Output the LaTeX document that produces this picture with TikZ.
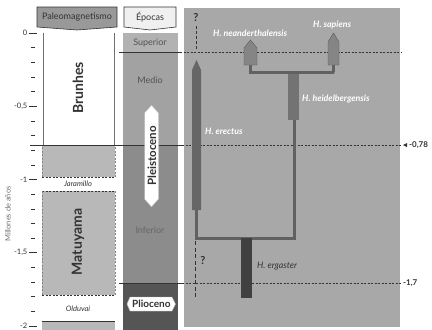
\documentclass[tikz,border=0pt]{standalone}
\usepackage{fontspec}
\setmainfont{Lato}
\definecolor{panel}{HTML}{A8A8A8}
\definecolor{matu}{HTML}{B8B8B8}
\definecolor{sup}{HTML}{B2B2B2}
\definecolor{med}{HTML}{A2A2A2}
\definecolor{inf}{HTML}{8C8C8C}
\definecolor{plio}{HTML}{555555}
\definecolor{ink}{HTML}{333333}
\tikzset{
  tick/.style={draw=ink, line width=0.6pt},
  ticklab/.style={anchor=east, font=\fontsize{7.5}{8}\selectfont, text=ink, inner sep=0pt},
  hdr/.style={draw=ink, line width=0.6pt},
  bandlab/.style={font=\fontsize{7.5}{8}\selectfont\itshape, text=ink},
  eplab/.style={font=\fontsize{9}{10}\selectfont, text=ink!85},
  biglab/.style={font=\fontsize{14}{15}\selectfont\bfseries, text=ink, rotate=90},
  splab/.style={font=\fontsize{8.8}{10}\selectfont\bfseries\itshape, inner sep=0pt},
  dline/.style={dashed, dash pattern=on 2pt off 1.5pt, draw=ink, line width=0.6pt},
  branch/.style={line width=3pt, draw=black!62},
}
\begin{document}
\begin{tikzpicture}[x=1pt,y=-1pt]
\useasboundingbox (0,0) rectangle (432,330);
\fill[white] (0,0) rectangle (432,330);
% right textured panel
\fill[panel] (184,8) rectangle (400,327);
% Paleomagnetism column
\fill[matu] (42,145) rectangle (115,177);
\fill[matu] (42,191) rectangle (115,295);
\fill[matu] (42,321) rectangle (115,330);
\draw[ink!70, line width=0.5pt] (43,33) -- (43,145);
\draw[ink!70, line width=0.5pt] (114,33) -- (114,145);
\draw[dline] (42,177) -- (115,177);
\draw[dline] (42,191) -- (115,191);
\draw[dline] (42,295) -- (115,295);
\draw[dline, draw=ink!60] (42,177) -- (42,145);
\draw[dline, draw=ink!60] (115,177) -- (115,145);
\draw[dline, draw=ink!60] (42,191) -- (42,295);
\draw[dline, draw=ink!60] (115,191) -- (115,295);
\draw[ink, line width=0.6pt] (42,321) -- (115,321);
% Epochs column
\fill[sup] (123,33) rectangle (178,52);
\fill[med] (123,52) rectangle (178,145);
\fill[inf] (123,145) rectangle (178,283);
\fill[plio] (123,283) rectangle (178,330);
% headers
\draw[hdr, fill=black!40] (37,7) -- (117,7) -- (117,27) -- (77,30) -- (37,27) -- cycle;
\node[font=\fontsize{9}{10}\selectfont, text=ink] (hpal) at (77,17.5) {Paleomagnetismo};
\draw[hdr, fill=black!6] (124,7) -- (176,7) -- (176,27) -- (150,30) -- (124,27) -- cycle;
\node[font=\fontsize{9}{10}\selectfont, text=ink] (hep) at (150,17.5) {Épocas};
% axis ticks
\foreach \i in {1,2,3,4,6,7,8,9,11,12,13,14,16,17,18,19}
  \draw[tick] (31,33+14.65*\i) -- (35,33+14.65*\i);
\foreach \i/\t in {0/0,5/{-0,5},10/{-1},15/{-1,5},20/{-2}} {
  \draw[tick] (29,33+14.65*\i) -- (37,33+14.65*\i);
  \node[ticklab] at (27.5,33+14.65*\i) {\t};
}
\node[rotate=90, font=\fontsize{7.5}{8}\selectfont, text=ink!70] (ylab) at (8,214) {Millones de años};
% main horizontal lines
\draw[ink, line width=0.8pt] (30,145) -- (182,145);
\draw[dline] (182,145) -- (401,145);
\draw[ink, line width=0.8pt] (119,52) -- (180,52);
\draw[dline] (180,52) -- (401,52);
\draw[ink, line width=0.8pt] (119,283) -- (182,283);
\draw[dline] (182,283) -- (401,283);
% labels on right
\fill[ink] (403,145) -- (407,143) -- (407,147) -- cycle;
\node[anchor=west, font=\fontsize{8}{9}\selectfont\bfseries, text=ink, inner sep=0pt] (l78) at (409,145) {-0,78};
\node[anchor=west, font=\fontsize{8}{9}\selectfont\bfseries, text=ink, inner sep=0pt] (l17) at (403,283) {-1,7};
% paleomag labels
\node[biglab] (brun) at (78,88) {Brunhes};
\node[biglab] (matu) at (78,242) {Matuyama};
\node[bandlab] (jar) at (78,184) {Jaramillo};
\node[bandlab] (old) at (78,308.5) {Olduvai};
% epoch labels
\node[eplab] (supl) at (150,43) {Superior};
\node[eplab] (medl) at (150,80) {Medio};
\node[eplab, text=black!60] (infl) at (150,230) {Inferior};
\draw[fill=white, draw=black!30, line width=0.4pt] (144.5,199) -- (144.5,113) -- (151.5,105) -- (158.5,113) -- (158.5,199) -- (151.5,207) -- cycle;
\node[rotate=90, font=\fontsize{11.5}{12}\selectfont\bfseries, text=ink] (pleis) at (152,156) {Pleistoceno};
\draw[fill=white, draw=black!30, line width=0.4pt] (127,304) -- (130,297) -- (172,297) -- (175.5,304) -- (172,311) -- (130,311) -- cycle;
\node[font=\fontsize{10}{11}\selectfont\bfseries, text=ink] (plioc) at (151.3,304) {Plioceno};
% question marks
\node[font=\fontsize{11}{12}\selectfont\bfseries, text=ink] (q1) at (196,18) {?};
\draw[dashed, dash pattern=on 3pt off 2pt, draw=ink, line width=0.5pt] (196,26) -- (196,50);
\node[font=\fontsize{11}{12}\selectfont\bfseries, text=ink] (q2) at (203,261) {?};
\draw[dashed, dash pattern=on 4pt off 2.5pt, draw=ink, line width=0.5pt] (195,241) -- (195,297);
% tree branches
\coordinate (eb) at (196.5,209);
\coordinate (c1) at (196.5,238);
\coordinate (c2) at (294,238);
\coordinate (hb) at (294,118);
\draw[branch, line cap=butt] (eb) -- (c1) -- (c2) -- (hb);
\coordinate (t1) at (249,72.5);
\coordinate (t2) at (334,72.5);
\draw[branch] (250.5,64) |- (t1) -- (t2) -| (333.5,64);
% species bars
\fill[black!60] (192,210) -- (192,70) -- (196.5,60) -- (201,70) -- (201,210) -- cycle;
\fill[black!55] (288,74) rectangle (299,120);
\fill[black!48, draw=black!65, line width=0.4pt] (244,65) -- (244,48) -- (250.5,40) -- (257,48) -- (257,65) -- cycle;
\fill[black!48, draw=black!65, line width=0.4pt] (328,65) -- (328,42) -- (333.5,33) -- (339,42) -- (339,65) -- cycle;
\fill[black!75] (241,238) rectangle (252,298);
% species labels
\node[splab, text=white, anchor=west] (ner) at (205,131) {H. erectus};
\node[splab, text=white, anchor=west] (nhe) at (302,99) {H. heidelbergensis};
\node[splab, text=white, anchor=west] (nne) at (213,33) {H. neanderthalensis};
\node[splab, text=white, anchor=west] (nsa) at (313,25) {H. sapiens};
\node[splab, text=ink, anchor=west, font=\fontsize{8.8}{10}\selectfont\itshape] (nerg) at (257,266) {H. ergaster};
\end{tikzpicture}
\end{document}
